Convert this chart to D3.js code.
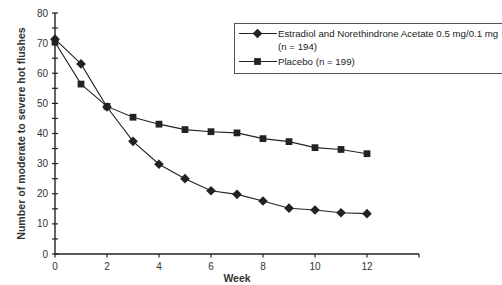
<!DOCTYPE html>
<html>
<head>
<meta charset="utf-8">
<script src="https://cdn.jsdelivr.net/npm/d3@7/dist/d3.min.js"></script>
<style>
  body { margin: 0; background: #fff; }
  svg { font-family: "Liberation Sans", Arial, sans-serif; }
</style>
</head>
<body>
<div id="chart"></div>
<script>
// data
var weeks = [0, 1, 2, 3, 4, 5, 6, 7, 8, 9, 10, 11, 12];
var estradiol = [71.3, 63.1, 48.8, 37.4, 29.8, 25.0, 21.0, 19.8, 17.6, 15.2, 14.6, 13.7, 13.4];
var placebo = [70.3, 56.4, 49.0, 45.4, 43.1, 41.3, 40.6, 40.2, 38.3, 37.3, 35.3, 34.7, 33.3];
var seriesNames = ['Estradiol and Norethindrone Acetate 0.5 mg/0.1 mg', 'Placebo (n = 199)'];
var xTicks = [0, 2, 4, 6, 8, 10, 12, 14];
var yTicks = [0, 10, 20, 30, 40, 50, 60, 70, 80];

var width = 502, height = 285;
var margin = {left: 55, top: 13, right: 83, bottom: 31};

var svg = d3.select('#chart').append('svg')
  .attr('width', width)
  .attr('height', height);

var x = d3.scaleLinear().domain([0, 14]).range([margin.left, width - margin.right]);
var y = d3.scaleLinear().domain([0, 80]).range([height - margin.bottom, margin.top]);

var ink = '#222';

// y axis: minor ticks every 5 crossing the line, labels every 10
var yAxis = svg.append('g').attr('transform', 'translate(' + margin.left + ',0)');
yAxis.append('line')
  .attr('y1', y(0)).attr('y2', y(80))
  .attr('stroke', ink).attr('stroke-width', 1.4);
yAxis.selectAll('.tk')
  .data(d3.range(0, 81, 5))
  .enter().append('line')
  .attr('x1', -3).attr('x2', 3)
  .attr('y1', function (d) { return y(d); })
  .attr('y2', function (d) { return y(d); })
  .attr('stroke', ink).attr('stroke-width', 1.2);
yAxis.selectAll('text')
  .data(yTicks)
  .enter().append('text')
  .attr('x', -7)
  .attr('y', function (d) { return y(d); })
  .attr('dy', '0.35em')
  .attr('text-anchor', 'end')
  .attr('font-size', 10)
  .attr('fill', '#333')
  .text(function (d) { return d; });

// x axis
var xAxis = svg.append('g').attr('transform', 'translate(0,' + y(0) + ')');
xAxis.append('line')
  .attr('x1', x(0)).attr('x2', x(14))
  .attr('stroke', ink).attr('stroke-width', 1.4);
xAxis.selectAll('.tk')
  .data(xTicks)
  .enter().append('line')
  .attr('x1', function (d) { return x(d); })
  .attr('x2', function (d) { return x(d); })
  .attr('y1', 0).attr('y2', 3.5)
  .attr('stroke', ink).attr('stroke-width', 1.2);
xAxis.selectAll('text')
  .data(xTicks.slice(0, -1))
  .enter().append('text')
  .attr('x', function (d) { return x(d); })
  .attr('y', 16)
  .attr('text-anchor', 'middle')
  .attr('font-size', 10)
  .attr('fill', '#333')
  .text(function (d) { return d; });

// axis titles
svg.append('text')
  .attr('x', x(7))
  .attr('y', 282)
  .attr('text-anchor', 'middle')
  .attr('font-size', 10.5)
  .attr('font-weight', 'bold')
  .attr('fill', '#333')
  .text('Week');

svg.append('text')
  .attr('transform', 'translate(24.5,' + y(40) + ') rotate(-90)')
  .attr('text-anchor', 'middle')
  .attr('font-size', 10.6)
  .attr('font-weight', 'bold')
  .attr('fill', '#333')
  .text('Number of moderate to severe hot flushes');

// lines
var line = d3.line()
  .x(function (d, i) { return x(weeks[i]); })
  .y(function (d) { return y(d); });

var diamond = d3.symbol().type(d3.symbolDiamond2).size(60);
var square = d3.symbol().type(d3.symbolSquare).size(46);

function drawSeries (vals, sym) {
  svg.append('path')
    .datum(vals)
    .attr('d', line)
    .attr('fill', 'none')
    .attr('stroke', ink)
    .attr('stroke-width', 1.1);
  svg.append('g').selectAll('path')
    .data(vals)
    .enter().append('path')
    .attr('d', sym)
    .attr('transform', function (d, i) { return 'translate(' + x(weeks[i]) + ',' + y(d) + ')'; })
    .attr('fill', ink);
}

drawSeries(placebo, square);
drawSeries(estradiol, diamond);

// legend
var legend = svg.append('g');
legend.append('rect')
  .attr('x', 234.5).attr('y', 23.5)
  .attr('width', 270).attr('height', 50)
  .attr('fill', '#fff')
  .attr('stroke', '#555').attr('stroke-width', 1);

var rows = [
  {yy: 33.5, sym: diamond, label: seriesNames[0]},
  {yy: 61.5, sym: square, label: seriesNames[1]}
];
rows.forEach(function (r) {
  legend.append('line')
    .attr('x1', 239).attr('x2', 277)
    .attr('y1', r.yy).attr('y2', r.yy)
    .attr('stroke', ink).attr('stroke-width', 1.1);
  legend.append('path')
    .attr('d', r.sym)
    .attr('transform', 'translate(257.5,' + r.yy + ')')
    .attr('fill', ink);
  legend.append('text')
    .attr('x', 278).attr('y', r.yy)
    .attr('dy', '0.35em')
    .attr('font-size', 9.7)
    .attr('fill', '#222')
    .text(r.label);
});
legend.append('text')
  .attr('x', 278).attr('y', 47)
  .attr('dy', '0.35em')
  .attr('font-size', 9.7)
  .attr('fill', '#222')
  .text('(n = 194)');
</script>
</body>
</html>
